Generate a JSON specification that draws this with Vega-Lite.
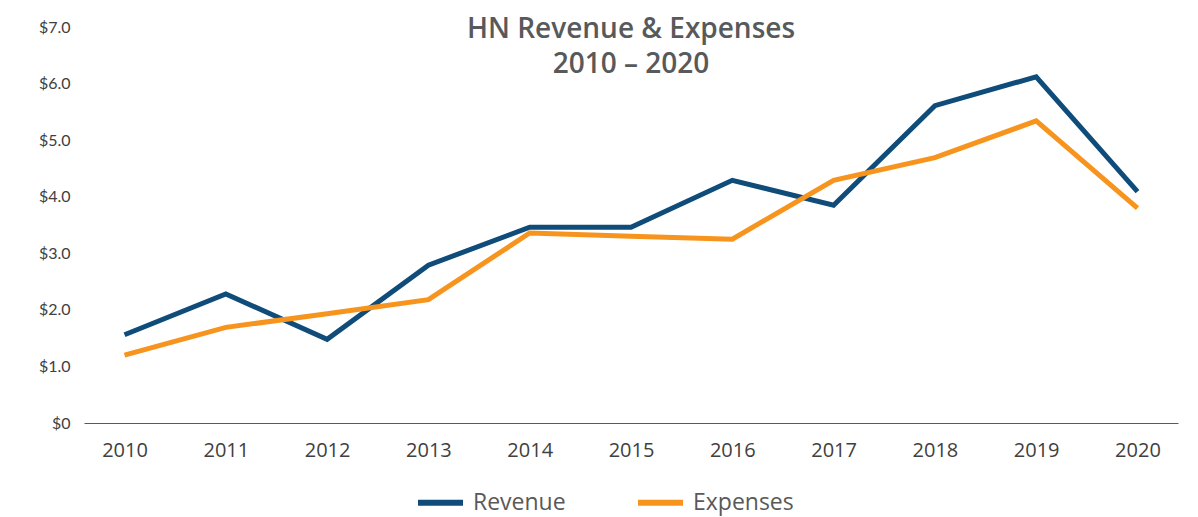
{
  "$schema": "https://vega.github.io/schema/vega-lite/v6.json",
  "width": 1094,
  "height": 396,
  "autosize": {"type": "none"},
  "padding": {"left": 84, "top": 27, "right": 20, "bottom": 94},
  "background": "white",
  "config": {"view": {"stroke": null}},
  "title": {
    "text": ["HN Revenue & Expenses", "2010 – 2020"],
    "anchor": "middle",
    "frame": "group",
    "font": "Open Sans",
    "fontSize": 28,
    "fontWeight": 600,
    "color": "#58595B",
    "lineHeight": 35,
    "dy": 64
  },
  "data": {
    "values": [
      {"year": "2010", "Revenue": 1.56, "Expenses": 1.20},
      {"year": "2011", "Revenue": 2.28, "Expenses": 1.69},
      {"year": "2012", "Revenue": 1.48, "Expenses": 1.93},
      {"year": "2013", "Revenue": 2.79, "Expenses": 2.18},
      {"year": "2014", "Revenue": 3.46, "Expenses": 3.36},
      {"year": "2015", "Revenue": 3.46, "Expenses": 3.30},
      {"year": "2016", "Revenue": 4.29, "Expenses": 3.25},
      {"year": "2017", "Revenue": 3.85, "Expenses": 4.29},
      {"year": "2018", "Revenue": 5.61, "Expenses": 4.69},
      {"year": "2019", "Revenue": 6.12, "Expenses": 5.34},
      {"year": "2020", "Revenue": 4.09, "Expenses": 3.80}
    ]
  },
  "transform": [{"fold": ["Revenue", "Expenses"], "as": ["series", "value"]}],
  "mark": {"type": "line", "strokeWidth": 5, "strokeJoin": "miter"},
  "encoding": {
    "x": {
      "field": "year",
      "type": "ordinal",
      "scale": {"type": "point", "padding": 0.4},
      "axis": {
        "title": null,
        "labelAngle": 0,
        "ticks": false,
        "domainColor": "#595959",
        "domainWidth": 1,
        "labelFont": "Open Sans",
        "labelFontSize": 20,
        "labelColor": "#404040",
        "labelPadding": 17,
        "grid": false
      }
    },
    "y": {
      "field": "value",
      "type": "quantitative",
      "scale": {"domain": [0, 7], "nice": false},
      "axis": {
        "title": null,
        "values": [0, 1, 2, 3, 4, 5, 6, 7],
        "labelExpr": "datum.value == 0 ? '$0' : '$' + format(datum.value, '.1f')",
        "grid": false,
        "domain": false,
        "ticks": false,
        "labelFont": "Lato",
        "labelFontSize": 16,
        "labelColor": "#404040",
        "labelPadding": 14
      }
    },
    "color": {
      "field": "series",
      "type": "nominal",
      "sort": ["Revenue", "Expenses"],
      "scale": {"domain": ["Revenue", "Expenses"], "range": ["#0F4C7A", "#F7941D"]},
      "legend": {
        "title": null,
        "orient": "none",
        "direction": "horizontal",
        "legendX": 331,
        "legendY": 450,
        "symbolType": "stroke",
        "symbolSize": 2025,
        "symbolStrokeWidth": 6,
        "labelFont": "Open Sans",
        "labelFontSize": 23,
        "labelColor": "#595959",
        "labelOffset": 7,
        "columnPadding": 60
      }
    }
  }
}
